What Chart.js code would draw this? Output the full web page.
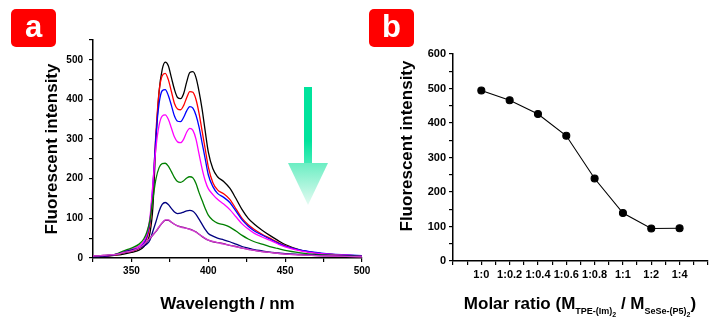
<!DOCTYPE html>
<html>
<head>
<meta charset="utf-8">
<script src="https://cdn.jsdelivr.net/npm/chart.js@4.4.0/dist/chart.umd.min.js"></script>
<style>
  body { margin: 0; background: #fff; width: 713px; height: 330px; position: relative; overflow: hidden;
         font-family: "Liberation Sans", Arial, sans-serif; color: #000; }
  .badge { position: absolute; top: 9px; width: 45px; height: 38px; background: #ff0000; border-radius: 5px;
           color: #fff; font-weight: bold; font-size: 31px; line-height: 35px; text-align: center; }
  #wrapA { position: absolute; left: 0; top: 0; width: 380px; height: 330px; }
  #wrapB { position: absolute; left: 360px; top: 0; width: 353px; height: 330px; }
  .shaft { position: absolute; left: 304px; top: 87px; width: 8px; height: 77px;
           background: linear-gradient(#00e39c, #00e39c 70%, #45ecb8); }
  .head { position: absolute; left: 288px; top: 163px; width: 40px; height: 42px;
          clip-path: polygon(0 0, 100% 0, 50% 100%); background: linear-gradient(#6beec3, #e4fbf2); }
  .title { position: absolute; font-weight: bold; font-size: 17px; line-height: 20px; text-align: center; white-space: nowrap; }
  #yTitleB { left: 307px; top: 136px; width: 200px; transform: rotate(-90deg); }
  #xTitleB { left: 450px; top: 294px; width: 260px; }
  .s1 { font-size: 9px; vertical-align: -5px; }
  .s2 { font-size: 7px; vertical-align: -3px; }
</style>
</head>
<body>
<div id="wrapA"><canvas id="chartA"></canvas></div>
<div id="wrapB"><canvas id="chartB"></canvas></div>
<div class="badge" style="left:11px">a</div>
<div class="badge" style="left:369px">b</div>
<div class="shaft"></div>
<div class="head"></div>
<div class="title" id="yTitleB">Fluorescent intensity</div>
<div class="title" id="xTitleB">Molar ratio (M<span class="s1">TPE-(Im)<span class="s2">2</span></span> / M<span class="s1">SeSe-(P5)<span class="s2">2</span></span>)</div>

<script>
// wavelength grid (nm) for the spectra in panel a
const wavelengths = [325, 330, 335, 340, 345, 350, 355, 358, 360, 362, 364, 366, 368, 370, 372, 374, 376, 378, 380,
  382, 384, 386, 388, 390, 392, 394, 396, 398, 400, 403, 406, 410, 414, 418, 422, 426, 430, 435, 440, 445, 450,
  460, 470, 480, 490, 500];

const spec_1_0 = [3, 4, 5, 7, 10, 14, 20, 28, 40, 62, 130, 300, 420, 475, 494, 485, 455, 425, 405,
  402, 415, 445, 468, 470, 455, 420, 375, 320, 268, 225, 205, 193, 176, 150, 122, 100, 85, 70, 57, 45, 34,
  20, 13, 9, 6, 4];
const spec_1_02 = [4, 5, 6, 8, 13, 17, 24, 35, 50, 82, 175, 320, 420, 460, 466, 450, 420, 390, 376,
  374, 385, 405, 420, 418, 400, 365, 320, 275, 230, 190, 172, 162, 148, 124, 100, 84, 72, 60, 50, 40, 31,
  19, 13, 9, 7, 5];
const spec_1_04 = [4, 5, 6, 9, 15, 20, 26, 38, 55, 92, 185, 310, 390, 422, 425, 410, 385, 358, 345,
  344, 355, 372, 382, 378, 360, 330, 290, 250, 210, 180, 163, 153, 140, 118, 96, 80, 68, 58, 48, 38, 30,
  20, 14, 10, 8, 6];
const spec_1_06 = [4, 5, 6, 9, 16, 22, 30, 42, 60, 100, 190, 280, 335, 358, 361, 350, 328, 305, 293,
  291, 300, 318, 327, 322, 300, 262, 225, 195, 175, 160, 148, 136, 122, 104, 86, 73, 62, 53, 45, 36, 28,
  18, 12, 9, 7, 5];
const spec_1_08 = [4, 5, 7, 10, 18, 25, 35, 48, 65, 95, 150, 200, 228, 238, 239, 232, 218, 203, 193,
  191, 195, 202, 205, 202, 188, 165, 145, 125, 108, 95, 88, 84, 78, 68, 57, 48, 41, 35, 29, 24, 19,
  13, 9, 7, 6, 4];
const spec_1_1 = [3, 4, 6, 9, 15, 20, 25, 30, 35, 45, 68, 92, 118, 135, 140, 135, 125, 116, 112,
  113, 116, 119, 120, 118, 110, 98, 85, 72, 62, 55, 50, 46, 41, 35, 29, 25, 21, 18, 15, 13, 11,
  9, 7, 6, 5, 4];
const spec_1_2 = [5, 6, 7, 9, 13, 17, 25, 33, 41, 49, 58, 67, 78, 88, 95, 95, 90, 85, 81,
  79, 77, 75, 73, 70, 66, 60, 54, 49, 45, 41, 39, 36, 32, 29, 25, 22, 19, 16, 14, 12, 10,
  8, 6, 5, 4, 3];
const spec_1_4 = [5, 6, 8, 9, 14, 18, 26, 34, 42, 50, 59, 68, 79, 89, 96, 96, 91, 85, 81,
  78, 76, 75, 72, 69, 65, 60, 55, 50, 45, 42, 39, 35, 32, 28, 25, 22, 19, 16, 14, 12, 10,
  8, 6, 5, 4, 3];

// panel b: peak intensity vs molar ratio
const ratioLabels = ["1:0", "1:0.2", "1:0.4", "1:0.6", "1:0.8", "1:1", "1:2", "1:4"];
const peakIntensity = [494, 466, 426, 363, 239, 139, 94, 95];

const spectra = [spec_1_0, spec_1_02, spec_1_04, spec_1_06, spec_1_08, spec_1_1, spec_1_2, spec_1_4];
const spectraColors = ["#000000", "#ff0000", "#0000ff", "#ff00ff", "#008000", "#000080", "#800080", "#d040d0"];

const fontFamily = "'Liberation Sans', Arial, sans-serif";
const tickFontA = { family: fontFamily, weight: "bold", size: 10 };
const tickFontB = { family: fontFamily, weight: "bold", size: 11 };
const titleFont = { family: fontFamily, weight: "bold", size: 17 };

const axisBase = {
  grid: { drawOnChartArea: false, drawTicks: true, tickLength: 4, color: "#000", lineWidth: 1.2 },
  border: { color: "#000", width: 1.5 },
};

new Chart(document.getElementById("chartA"), {
  type: "line",
  data: {
    datasets: spectra.map((arr, i) => ({
      data: wavelengths.map((w, j) => ({ x: w, y: arr[j] })),
      borderColor: spectraColors[i],
      borderWidth: 1.3,
      pointRadius: 0,
      tension: 0.4,
      cubicInterpolationMode: "monotone",
      fill: false,
    })).reverse(),
  },
  options: {
    responsive: true,
    maintainAspectRatio: false,
    animation: false,
    layout: { padding: { left: 42, top: 40, right: 18, bottom: 15 } },
    plugins: { legend: { display: false }, tooltip: { enabled: false } },
    scales: {
      x: {
        ...axisBase,
        type: "linear",
        min: 325,
        max: 500,
        ticks: {
          stepSize: 25,
          autoSkip: false,
          maxRotation: 0,
          padding: 3,
          color: "#000",
          font: tickFontA,
          callback: (v) => (v % 50 === 0 ? v : ""),
        },
        title: { display: true, text: "Wavelength / nm", color: "#000", font: titleFont, padding: 0 },
        afterFit: (s) => { s.height = 57; },
      },
      y: {
        ...axisBase,
        min: 0,
        max: 550,
        ticks: {
          stepSize: 50,
          autoSkip: false,
          padding: 6,
          color: "#000",
          font: tickFontA,
          callback: (v) => (v % 100 === 0 ? v : ""),
        },
        title: { display: true, text: "Fluorescent intensity", color: "#000", font: titleFont, padding: 0 },
        afterFit: (s) => { s.width = 51; },
      },
    },
  },
});

new Chart(document.getElementById("chartB"), {
  type: "line",
  data: {
    datasets: [{
      data: ratioLabels.map((r, i) => ({ x: i + 1, y: peakIntensity[i] })),
      borderColor: "#000",
      borderWidth: 1.1,
      pointRadius: 3.5,
      pointBackgroundColor: "#000",
      pointBorderColor: "#000",
      tension: 0,
    }],
  },
  options: {
    responsive: true,
    maintainAspectRatio: false,
    animation: false,
    layout: { padding: { left: 37, top: 54, right: 4, bottom: 0 } },
    plugins: { legend: { display: false }, tooltip: { enabled: false } },
    scales: {
      x: {
        ...axisBase,
        type: "linear",
        min: 0,
        max: 9,
        ticks: {
          stepSize: 0.5,
          autoSkip: false,
          maxRotation: 0,
          padding: 3,
          color: "#000",
          font: tickFontB,
          callback: (v) => (Number.isInteger(v) && v >= 1 && v <= 8 ? ratioLabels[v - 1] : ""),
        },
        afterFit: (s) => { s.height = 69; },
      },
      y: {
        ...axisBase,
        min: 0,
        max: 600,
        ticks: {
          stepSize: 50,
          autoSkip: false,
          padding: 3,
          color: "#000",
          font: tickFontB,
          callback: (v) => (v % 100 === 0 ? v : ""),
        },
        afterFit: (s) => { s.width = 56; },
      },
    },
  },
});
</script>
</body>
</html>
